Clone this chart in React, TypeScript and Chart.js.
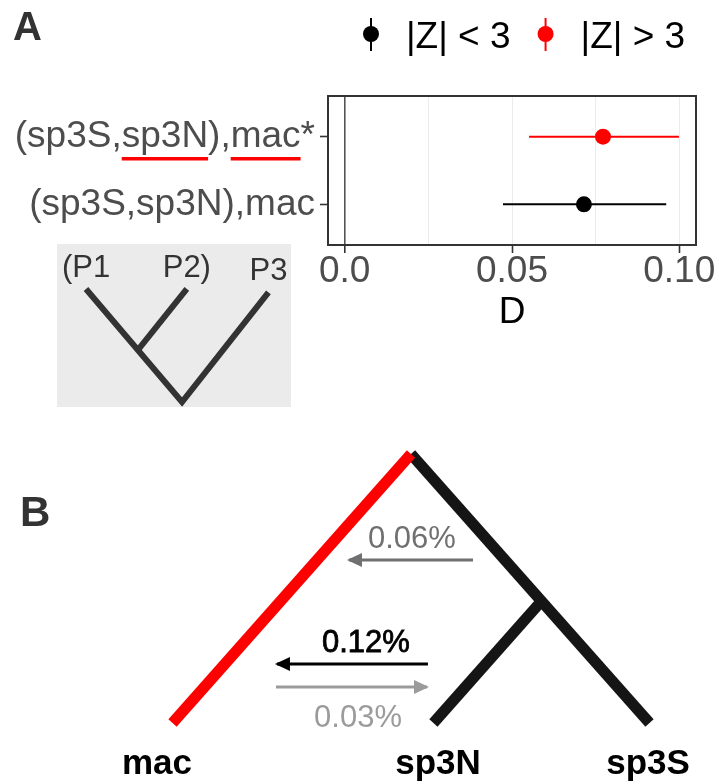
import React, { useEffect, useRef } from "react";
import { Chart, registerables } from "chart.js";

Chart.register(...registerables);

const FONT = "'Liberation Sans', Arial, Helvetica, sans-serif";

// ---------- Panel A : D statistics ----------
const testLabels = ["(sp3S,sp3N),mac", "(sp3S,sp3N),mac*"];
const testRows = [1, 2];
const dValues = [0.0715, 0.0772];
const dLower = [0.0473, 0.0551];
const dUpper = [0.0961, 0.0999];
const zSignificant = [false, true];
const xTickValues = [0, 0.025, 0.05, 0.075, 0.1];
const xTickLabels = ["0.0", "", "0.05", "", "0.10"];
const xAxisTitle = "D";
const legendLabels = ["|Z| < 3", "|Z| > 3"];
const legendColors = ["#000000", "#ff0000"];
const underlinedRow = 2;
const underlinedWords = ["sp3N", "mac"];

// inset topology ((P1,P2),P3)
const insetTipLabels = ["(P1", "P2)", "P3"];
const insetTipX = [-1, 0.05, 0.9];
const insetTipY = [1, 1, 0.97];
const insetJoinX = -0.45;
const insetJoinY = 0.47;

// ---------- Panel B : tree with gene flow ----------
const tipNames = ["mac", "sp3N", "sp3S"];
const tipLabelX = [-1.065, 0.113, 0.994];
const innerNodeHeight = 0.453;
const flowLabels = ["0.06%", "0.12%", "0.03%"];
const flowHeights = [0.606, 0.219, 0.134];
const flowFrom = [0.26, 0.071, -0.566];
const flowTo = [-0.26, -0.562, 0.067];
const flowColors = ["#707070", "#000000", "#9b9b9b"];
const flowBold = [false, true, false];
const flowLabelX = [0.004, -0.189, -0.222];
const flowLabelHeight = [0.651, 0.264, -0.015];

const rowColor = (i: number) => (zSignificant[i] ? legendColors[1] : legendColors[0]);

export default function App() {
  const refA = useRef<HTMLCanvasElement>(null);
  const refInset = useRef<HTMLCanvasElement>(null);
  const refB = useRef<HTMLCanvasElement>(null);

  useEffect(() => {
    // ---------------- Chart A ----------------
    const panelAPlugin = {
      id: "panelA",
      beforeDatasetsDraw(chart: any) {
        const { ctx, chartArea: a } = chart;
        ctx.save();
        ctx.strokeStyle = "#333333";
        ctx.lineWidth = 2;
        ctx.strokeRect(a.left, a.top, a.right - a.left, a.bottom - a.top);
        ctx.restore();
      },
      afterDraw(chart: any) {
        const ctx = chart.ctx as CanvasRenderingContext2D;
        ctx.save();
        ctx.fillStyle = "#333333";
        ctx.font = `bold 40px ${FONT}`;
        ctx.textAlign = "left";
        ctx.textBaseline = "alphabetic";
        ctx.fillText("A", 13, 40);

        ctx.font = `37px ${FONT}`;
        let x = 371;
        legendLabels.forEach((lab, i) => {
          const c = legendColors[i];
          ctx.strokeStyle = c;
          ctx.fillStyle = c;
          ctx.lineWidth = 2;
          ctx.beginPath();
          ctx.moveTo(x, 18);
          ctx.lineTo(x, 51);
          ctx.stroke();
          ctx.beginPath();
          ctx.arc(x, 34, 8, 0, Math.PI * 2);
          ctx.fill();
          ctx.fillStyle = "#000000";
          ctx.fillText(lab, x + 35, 48);
          x += 35 + ctx.measureText(lab).width + 35;
        });

        const ys = chart.scales.y;
        const text = testLabels[testRows.indexOf(underlinedRow)];
        const xEnd = ys.right - 8 - 5;
        const xStart = xEnd - ctx.measureText(text).width;
        const yl = ys.getPixelForValue(underlinedRow) + 22;
        ctx.strokeStyle = "#ff0000";
        ctx.lineWidth = 3.5;
        underlinedWords.forEach((w) => {
          const idx = text.indexOf(w);
          const x0 = xStart + ctx.measureText(text.slice(0, idx)).width;
          const x1 = x0 + ctx.measureText(w).width;
          ctx.beginPath();
          ctx.moveTo(x0, yl);
          ctx.lineTo(x1, yl);
          ctx.stroke();
        });
        ctx.restore();
      },
    };

    const datasetsA: any[] = [];
    testRows.forEach((r, i) => {
      datasetsA.push({
        data: [
          { x: dLower[i], y: r },
          { x: dUpper[i], y: r },
        ],
        showLine: true,
        borderColor: rowColor(i),
        borderWidth: 2,
        pointRadius: 0,
        order: 1,
      });
    });
    datasetsA.push({
      data: testRows.map((r, i) => ({ x: dValues[i], y: r })),
      backgroundColor: testRows.map((_, i) => rowColor(i)),
      borderWidth: 0,
      pointRadius: 8,
      order: 0,
    });

    const chartA = new Chart(refA.current!, {
      type: "scatter",
      data: { datasets: datasetsA },
      plugins: [panelAPlugin],
      options: {
        animation: false,
        responsive: false,
        maintainAspectRatio: false,
        events: [],
        layout: { padding: { top: 96, right: 22, left: 0, bottom: 9 } },
        plugins: { legend: { display: false }, tooltip: { enabled: false } },
        scales: {
          x: {
            type: "linear",
            min: -0.005,
            max: 0.105,
            afterBuildTicks: (s: any) => {
              s.ticks = xTickValues.map((v) => ({ value: v }));
            },
            afterFit: (s: any) => {
              s.height = 86;
            },
            ticks: {
              autoSkip: false,
              maxRotation: 0,
              padding: 0,
              color: "#4d4d4d",
              font: { family: FONT, size: 37, lineHeight: 1 },
              callback: (v: any) => xTickLabels[xTickValues.indexOf(v)],
            },
            grid: {
              color: (c: any) => (c.tick && c.tick.value === 0 ? "#555555" : "#ebebeb"),
              lineWidth: (c: any) => (c.tick && c.tick.value === 0 ? 1.6 : 1),
              tickLength: 8,
              tickWidth: 1.6,
              tickColor: (c: any) =>
                c.tick && xTickLabels[xTickValues.indexOf(c.tick.value)] ? "#333333" : "rgba(0,0,0,0)",
            },
            border: { display: false },
            title: {
              display: true,
              text: xAxisTitle,
              color: "#000000",
              padding: 0,
              font: { family: FONT, size: 37, lineHeight: 1 },
            },
          },
          y: {
            type: "linear",
            min: 0.4,
            max: 2.6,
            afterBuildTicks: (s: any) => {
              s.ticks = testRows.map((v) => ({ value: v }));
            },
            afterFit: (s: any) => {
              s.width = 328;
            },
            ticks: {
              autoSkip: false,
              padding: 5,
              color: "#4d4d4d",
              font: { family: FONT, size: 37 },
              callback: (v: any) => testLabels[testRows.indexOf(v)],
            },
            grid: { drawOnChartArea: false, tickLength: 8, tickWidth: 1.6, tickColor: "#333333" },
            border: { display: false },
          },
        },
      } as any,
    });

    // ---------------- Inset tree ----------------
    const insetPlugin = {
      id: "inset",
      beforeDraw(chart: any) {
        const ctx = chart.ctx;
        ctx.save();
        ctx.fillStyle = "#ebebeb";
        ctx.fillRect(0, 0, chart.width, chart.height);
        ctx.restore();
      },
      afterDraw(chart: any) {
        const ctx = chart.ctx;
        const xs = chart.scales.x;
        const ys = chart.scales.y;
        ctx.save();
        ctx.fillStyle = "#333333";
        ctx.font = `31px ${FONT}`;
        ctx.textAlign = "center";
        ctx.textBaseline = "alphabetic";
        insetTipLabels.forEach((lab, i) => {
          ctx.fillText(lab, xs.getPixelForValue(insetTipX[i]), ys.getPixelForValue(insetTipY[i]) - 12);
        });
        ctx.restore();
      },
    };
    const lineStyle = {
      showLine: true,
      pointRadius: 0,
      borderWidth: 6,
      borderColor: "#333333",
      borderJoinStyle: "miter",
      borderCapStyle: "butt",
    };
    const chartInset = new Chart(refInset.current!, {
      type: "scatter",
      data: {
        datasets: [
          {
            ...lineStyle,
            data: [
              { x: insetTipX[0], y: insetTipY[0] },
              { x: 0, y: 0 },
              { x: insetTipX[2], y: insetTipY[2] },
            ],
          },
          {
            ...lineStyle,
            data: [
              { x: insetJoinX, y: insetJoinY },
              { x: insetTipX[1], y: insetTipY[1] },
            ],
          },
        ] as any,
      },
      plugins: [insetPlugin],
      options: {
        animation: false,
        responsive: false,
        maintainAspectRatio: false,
        events: [],
        plugins: { legend: { display: false }, tooltip: { enabled: false } },
        scales: {
          x: { type: "linear", display: false, min: -1.302, max: 1.135 },
          y: { type: "linear", display: false, min: -0.044, max: 1.398 },
        },
      } as any,
    });

    // ---------------- Chart B ----------------
    const h = innerNodeHeight;
    const tipX = [-1, 1 - 2 * h, 1];
    const panelBPlugin = {
      id: "panelB",
      afterDatasetsDraw(chart: any) {
        const ctx = chart.ctx as CanvasRenderingContext2D;
        const xs = chart.scales.x;
        const ys = chart.scales.y;
        ctx.save();
        // arrow heads
        flowLabels.forEach((_, i) => {
          const px = xs.getPixelForValue(flowTo[i]);
          const py = ys.getPixelForValue(flowHeights[i]);
          const dir = flowTo[i] > flowFrom[i] ? 1 : -1;
          ctx.fillStyle = flowColors[i];
          ctx.beginPath();
          ctx.moveTo(px + dir * 2, py);
          ctx.lineTo(px - dir * 13, py - 7);
          ctx.lineTo(px - dir * 13, py + 7);
          ctx.closePath();
          ctx.fill();
        });
        // flow labels
        ctx.font = `31px ${FONT}`;
        ctx.textAlign = "center";
        ctx.textBaseline = "alphabetic";
        flowLabels.forEach((lab, i) => {
          const tx = xs.getPixelForValue(flowLabelX[i]);
          const ty = ys.getPixelForValue(flowLabelHeight[i]);
          ctx.fillStyle = flowColors[i];
          ctx.fillText(lab, tx, ty);
          if (flowBold[i]) {
            ctx.strokeStyle = flowColors[i];
            ctx.lineWidth = 0.8;
            ctx.strokeText(lab, tx, ty);
          }
        });
        // tip labels
        ctx.font = `bold 35px ${FONT}`;
        ctx.fillStyle = "#000000";
        tipNames.forEach((n, i) => {
          ctx.fillText(n, xs.getPixelForValue(tipLabelX[i]), ys.getPixelForValue(0) + 51);
        });
        // panel letter
        ctx.font = `bold 42px ${FONT}`;
        ctx.fillStyle = "#333333";
        ctx.textAlign = "left";
        ctx.fillText("B", 20, 86);
        ctx.restore();
      },
    };
    const branch = (color: string, order: number, pts: any[]) => ({
      data: pts,
      showLine: true,
      pointRadius: 0,
      borderWidth: 11,
      borderColor: color,
      borderCapStyle: "butt",
      order,
    });
    const datasetsB: any[] = [
      branch("#151515", 2, [
        { x: 0, y: 1 },
        { x: tipX[2], y: 0 },
      ]),
      branch("#151515", 2, [
        { x: 1 - h, y: h },
        { x: tipX[1], y: 0 },
      ]),
      branch("#ff0000", 1, [
        { x: tipX[0], y: 0 },
        { x: 0, y: 1 },
      ]),
    ];
    flowLabels.forEach((_, i) => {
      datasetsB.push({
        data: [
          { x: flowFrom[i], y: flowHeights[i] },
          { x: flowTo[i], y: flowHeights[i] },
        ],
        showLine: true,
        pointRadius: 0,
        borderWidth: 3,
        borderColor: flowColors[i],
        borderCapStyle: "butt",
        order: 0,
      });
    });
    const chartB = new Chart(refB.current!, {
      type: "scatter",
      data: { datasets: datasetsB },
      plugins: [panelBPlugin],
      options: {
        animation: false,
        responsive: false,
        maintainAspectRatio: false,
        events: [],
        plugins: { legend: { display: false }, tooltip: { enabled: false } },
        scales: {
          x: { type: "linear", display: false, min: -1.7233, max: 1.2872 },
          y: { type: "linear", display: false, min: -0.2268, max: 1.052 },
        },
      } as any,
    });

    return () => {
      chartA.destroy();
      chartInset.destroy();
      chartB.destroy();
    };
  }, []);

  return (
    <div style={{ position: "absolute", left: 0, top: 0, width: 718, height: 784, background: "#ffffff" }}>
      <canvas
        ref={refA}
        width={718}
        height={340}
        style={{ position: "absolute", left: 0, top: 0, width: 718, height: 340 }}
      />
      <canvas
        ref={refInset}
        width={234}
        height={163}
        style={{ position: "absolute", left: 57, top: 244, width: 234, height: 163 }}
      />
      <canvas
        ref={refB}
        width={718}
        height={344}
        style={{ position: "absolute", left: 0, top: 440, width: 718, height: 344 }}
      />
    </div>
  );
}
